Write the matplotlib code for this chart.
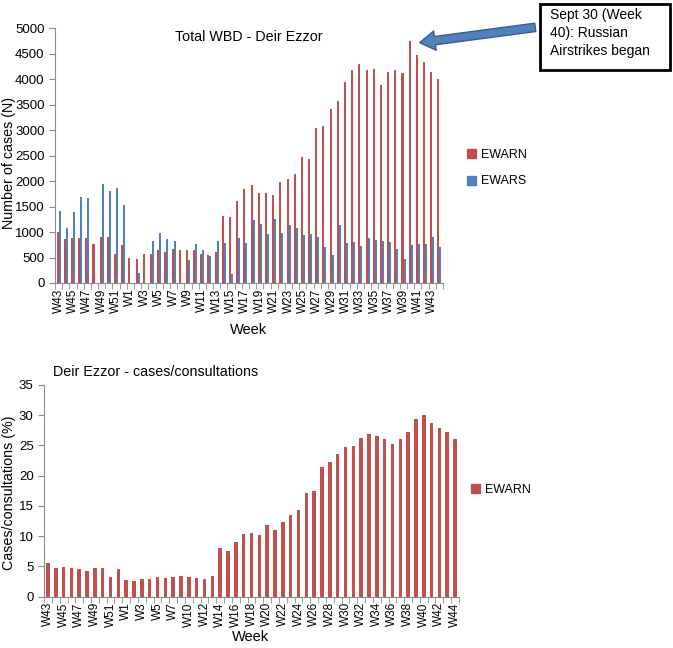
import matplotlib.pyplot as plt
import numpy as np
from matplotlib.patches import Patch, Rectangle, FancyArrowPatch

plt.rcParams['font.family'] = ['Liberation Sans', 'DejaVu Sans']

RED = '#C0504D'
BLUE = '#4F81BD'
GREY = '#8C8C8C'

# ── data ──────────────────────────────────────────────────────────────
weeks_top = [f'W{w}' for w in range(43, 53)] + [f'W{w}' for w in range(1, 45)]
ewarn_cases = [1000, 860, 890, 890, 880, 775, 900, 905, 570, 750,
               500, 480, 570, 577, 655, 616, 675, 650, 640, 650, 560, 545, 616,
               1320, 1295, 1615, 1845, 1927, 1776, 1763, 1737, 1992, 2044, 2136,
               2470, 2438, 3047, 3073, 3421, 3578, 3945, 4187, 4299, 4174, 4200,
               3892, 4141, 4174, 4122, 4751, 4482, 4338, 4141, 3997]
ewars_cases = [1415, 1080, 1390, 1690, 1660, 0, 1940, 1800, 1860, 1540,
               0, 190, 0, 832, 975, 855, 815, 0, 455, 760, 640, 520, 832,
               783, 167, 875, 786, 1238, 1160, 963, 1252, 990, 1134, 1075,
               950, 963, 911, 708, 550, 1134, 786, 806, 721, 878, 845,
               819, 806, 668, 478, 740, 760, 767, 898, 708]

weeks_bottom = ([f'W{w}' for w in range(43, 53)] + [f'W{w}' for w in range(1, 9)]
                + [f'W{w}' for w in range(10, 45)])
ewarn_ratio = [5.5, 4.76, 4.87, 4.76, 4.65, 4.26, 4.76, 4.76, 3.32, 4.54,
               2.71, 2.60, 2.99, 2.99, 3.32, 3.15, 3.32, 3.43, 3.32, 3.15,
               2.88, 3.43, 8.02, 7.58, 9.08, 10.4, 10.5, 10.2, 11.8, 11.1,
               12.3, 13.5, 14.4, 17.2, 17.4, 21.4, 22.2, 23.6, 24.7, 24.9,
               26.3, 26.9, 26.5, 26.0, 25.3, 26.1, 27.3, 29.3, 30.1, 28.7,
               27.9, 27.2, 26.0]


def style_axes(ax, labels, ymax, ystep):
    n = len(labels)
    ax.set_xlim(-0.5, n - 0.5)
    ax.set_ylim(0, ymax)
    ax.set_yticks(np.arange(0, ymax + 1, ystep))
    ax.set_xticks(np.arange(0, n, 2))
    ax.set_xticklabels(labels[::2], rotation=90, fontsize=8.5)
    ax.set_xticks(np.arange(-0.5, n, 1), minor=True)
    ax.tick_params(axis='x', which='major', length=0, pad=4)
    ax.tick_params(axis='x', which='minor', length=4, color=GREY)
    ax.tick_params(axis='y', length=4, color=GREY, labelsize=9.5)
    for side in ['top', 'right']:
        ax.spines[side].set_visible(False)
    for side in ['left', 'bottom']:
        ax.spines[side].set_color(GREY)


fig = plt.figure(figsize=(6.73, 6.48), dpi=100)

# ── top: total WBD cases ──────────────────────────────────────────────
ax1 = fig.add_axes([0.0817, 0.5633, 0.5766, 0.393])
x = np.arange(len(weeks_top))
w = 0.28
ax1.bar(x - w / 2, ewarn_cases, width=w, color=RED)
ax1.bar(x + w / 2, ewars_cases, width=w, color=BLUE)
style_axes(ax1, weeks_top, 5000, 500)
fig.text(249 / 673, 1 - 37 / 648, 'Total WBD - Deir Ezzor', ha='center', va='center', fontsize=10.3)
fig.text(9 / 673, 1 - 163 / 648, 'Number of cases (N)', rotation=90, ha='center', va='center', fontsize=10.3)
fig.text(249 / 673, 1 - 330 / 648, 'Week', ha='center', va='center', fontsize=10.5)
fig.legend(handles=[Patch(color=RED, label='EWARN'), Patch(color=BLUE, label='EWARS')],
           loc='center left', bbox_to_anchor=(0.677, 1 - 168 / 648), frameon=False,
           handlelength=0.7, handleheight=0.7, handletextpad=0.4, labelspacing=1.2, fontsize=9)

# annotation box + block arrow
fig.add_artist(Rectangle((540 / 673, 1 - 70 / 648), 130 / 673, 66 / 648,
                         transform=fig.transFigure, facecolor='white', edgecolor='black', linewidth=2))
fig.text(550 / 673, 1 - 8 / 648, 'Sept 30 (Week\n40): Russian\nAirstrikes began',
         ha='left', va='top', fontsize=10, linespacing=1.35)
fig.add_artist(FancyArrowPatch((538 / 673, 1 - 27 / 648), (417 / 673, 1 - 43 / 648),
                               transform=fig.transFigure,
                               arrowstyle='simple,tail_width=0.6,head_width=1.4,head_length=1.1',
                               mutation_scale=10, facecolor=BLUE, edgecolor='#385D8A', linewidth=1))

# ── bottom: cases / consultations ─────────────────────────────────────
ax2 = fig.add_axes([0.0654, 0.0792, 0.6166, 0.3267])
x2 = np.arange(len(weeks_bottom))
ax2.bar(x2, ewarn_ratio, width=0.45, color=RED)
style_axes(ax2, weeks_bottom, 35, 5)
fig.text(156 / 673, 1 - 372 / 648, 'Deir Ezzor - cases/consultations', ha='center', va='center', fontsize=10.3)
fig.text(9 / 673, 1 - 493 / 648, 'Cases/consultations (%)', rotation=90, ha='center', va='center', fontsize=10.3)
fig.text(250 / 673, 1 - 637 / 648, 'Week', ha='center', va='center', fontsize=10.5)
fig.legend(handles=[Patch(color=RED, label='EWARN')],
           loc='center left', bbox_to_anchor=(0.683, 1 - 490 / 648), frameon=False,
           handlelength=0.7, handleheight=0.7, handletextpad=0.4, fontsize=9)

fig.savefig('out.png', dpi=100)
